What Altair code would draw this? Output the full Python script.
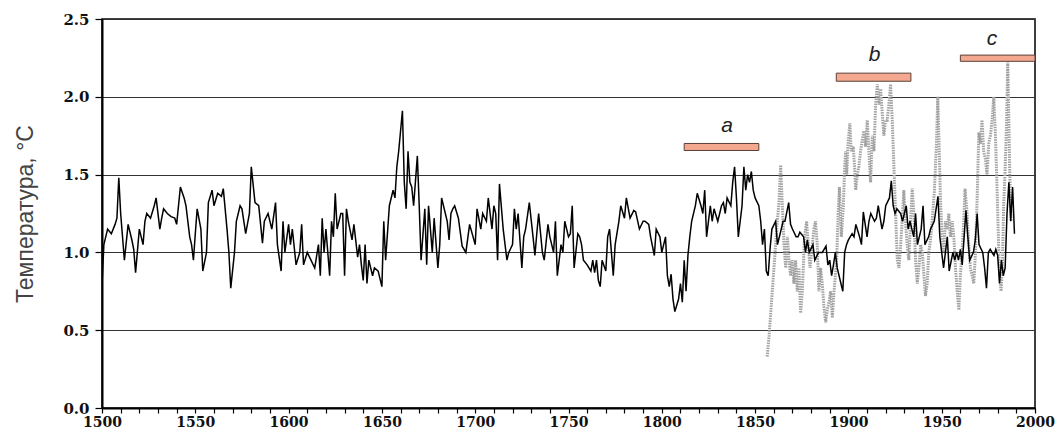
import altair as alt
import pandas as pd

# --- black series (annual reconstruction) ---
black_years = [
    1500, 1501, 1503, 1505, 1507, 1508, 1509, 1510, 1512, 1514, 1516, 1517, 1518, 1520, 1522, 1523,
    1524, 1526, 1528, 1529, 1531, 1532, 1533, 1535, 1537, 1539, 1540, 1542, 1544, 1545, 1547, 1548,
    1549, 1550, 1551, 1553, 1554, 1556, 1557, 1559, 1560, 1562, 1564, 1565, 1567, 1568, 1569, 1571,
    1572, 1574, 1575, 1577, 1579, 1580, 1582, 1584, 1586, 1587, 1589, 1591, 1593, 1594, 1596, 1597,
    1598, 1600, 1601, 1602, 1604, 1606, 1607, 1608, 1610, 1612, 1614, 1616, 1617, 1618, 1619, 1620,
    1622, 1623, 1624, 1625, 1626, 1628, 1629, 1630, 1631, 1632, 1634, 1635, 1637, 1638, 1639, 1640,
    1641, 1642, 1643, 1645, 1646, 1648, 1650, 1651, 1652, 1654, 1656, 1657, 1658, 1659, 1661, 1662,
    1663, 1664, 1665, 1666, 1667, 1669, 1670, 1671, 1673, 1674, 1675, 1677, 1678, 1680, 1681, 1682,
    1684, 1685, 1686, 1687, 1688, 1689, 1691, 1693, 1695, 1697, 1700, 1701, 1703, 1704, 1706, 1707,
    1709, 1710, 1711, 1712, 1713, 1715, 1717, 1718, 1720, 1721, 1722, 1723, 1725, 1726, 1727, 1729,
    1731, 1732, 1733, 1734, 1736, 1737, 1739, 1740, 1742, 1743, 1744, 1746, 1747, 1748, 1750, 1751,
    1752, 1753, 1755, 1756, 1757, 1758, 1760, 1762, 1763, 1764, 1765, 1766, 1767, 1768, 1770, 1771,
    1772, 1774, 1775, 1777, 1778, 1780, 1781, 1783, 1785, 1786, 1788, 1790, 1791, 1793, 1794, 1796,
    1797, 1799, 1800, 1802, 1803, 1804, 1805, 1806, 1807, 1809, 1810, 1811, 1812, 1813, 1814, 1815,
    1816, 1818, 1819, 1821, 1822, 1823, 1824, 1826, 1827, 1828, 1830, 1832, 1833, 1834, 1835, 1837,
    1838, 1839, 1840, 1841, 1843, 1844, 1845, 1846, 1847, 1848, 1849, 1850, 1852, 1853, 1854, 1855,
    1856, 1857, 1858, 1859, 1861, 1862, 1864, 1865, 1866, 1868, 1869, 1870, 1872, 1873, 1874, 1876,
    1877, 1878, 1879, 1881, 1882, 1884, 1886, 1888, 1889, 1890, 1891, 1892, 1893, 1894, 1895, 1897,
    1898, 1899, 1900, 1902, 1903, 1904, 1906, 1907, 1908, 1910, 1911, 1912, 1914, 1915, 1916, 1918,
    1919, 1920, 1922, 1923, 1924, 1925, 1926, 1928, 1929, 1931, 1932, 1933, 1935, 1936, 1937, 1939,
    1940, 1941, 1943, 1944, 1946, 1947, 1948, 1949, 1950, 1951, 1952, 1953, 1954, 1956, 1957, 1958,
    1959, 1960, 1961, 1963, 1964, 1965, 1967, 1968, 1969, 1970, 1972, 1973, 1974, 1975, 1976, 1978,
    1979, 1980, 1981, 1982, 1983, 1984, 1985, 1986, 1987, 1988, 1989,
]
black_vals = [
    0.79, 1.05, 1.15, 1.12, 1.18, 1.22, 1.48, 1.25, 0.95, 1.18, 1.08, 1.02, 0.87, 1.15, 1.05, 1.20,
    1.25, 1.22, 1.30, 1.35, 1.15, 1.22, 1.28, 1.25, 1.23, 1.22, 1.18, 1.42, 1.35, 1.30, 1.10, 1.05,
    0.95, 1.12, 1.28, 1.15, 0.88, 1.00, 1.32, 1.40, 1.30, 1.38, 1.36, 1.41, 1.15, 1.00, 0.77, 1.00,
    1.20, 1.30, 1.28, 1.12, 1.25, 1.55, 1.32, 1.30, 1.06, 1.20, 1.25, 1.15, 1.32, 1.05, 0.88, 1.20,
    1.00, 1.18, 1.05, 1.15, 0.92, 1.00, 1.18, 0.92, 1.00, 0.95, 0.90, 1.05, 0.85, 1.22, 1.00, 1.15,
    0.85, 1.20, 1.10, 1.38, 1.15, 1.25, 1.25, 0.85, 1.28, 1.20, 1.08, 1.18, 0.97, 1.05, 0.92, 0.82,
    1.05, 0.80, 0.95, 0.85, 0.90, 0.88, 0.78, 1.20, 0.95, 1.30, 1.40, 1.35, 1.55, 1.65, 1.91, 1.45,
    1.28, 1.65, 1.45, 1.42, 1.30, 1.62, 1.30, 0.95, 1.28, 0.92, 1.30, 1.00, 1.22, 0.90, 1.05, 1.35,
    1.25, 1.20, 1.08, 1.25, 1.28, 1.30, 1.22, 1.04, 1.00, 1.18, 1.05, 1.28, 1.15, 1.25, 1.20, 1.35,
    1.15, 1.30, 1.25, 0.95, 1.44, 1.15, 0.95, 1.00, 1.05, 1.28, 1.15, 1.25, 0.90, 1.10, 1.15, 1.32,
    1.10, 0.98, 1.12, 1.25, 1.00, 0.95, 1.18, 1.10, 1.00, 1.20, 0.85, 1.05, 1.00, 1.20, 1.10, 1.12,
    1.30, 0.90, 1.12, 1.10, 1.05, 0.95, 0.92, 0.88, 0.95, 0.87, 0.95, 0.82, 0.78, 0.95, 0.88, 1.10,
    1.15, 0.85, 1.05, 1.20, 1.30, 1.22, 1.35, 1.22, 1.27, 1.26, 1.15, 1.20, 1.20, 1.18, 1.10, 0.98,
    1.15, 1.10, 1.00, 1.10, 0.85, 0.78, 0.86, 0.70, 0.62, 0.70, 0.80, 0.68, 0.95, 0.75, 0.98, 1.10,
    1.20, 1.30, 1.38, 1.30, 1.25, 1.40, 1.10, 1.30, 1.20, 1.28, 1.20, 1.30, 1.32, 1.25, 1.35, 1.30,
    1.45, 1.55, 1.35, 1.10, 1.30, 1.55, 1.40, 1.50, 1.45, 1.52, 1.40, 1.35, 1.30, 1.20, 1.05, 1.15,
    0.88, 0.85, 1.02, 1.15, 1.20, 1.05, 1.15, 1.20, 1.20, 1.32, 1.18, 1.15, 1.10, 1.10, 1.13, 1.10,
    1.00, 1.08, 1.00, 1.05, 0.95, 1.00, 1.00, 1.04, 0.92, 0.95, 0.85, 0.92, 1.00, 0.90, 0.85, 0.75,
    1.00, 1.05, 1.08, 1.12, 1.10, 1.18, 1.10, 1.05, 1.26, 1.10, 1.20, 1.25, 1.20, 1.22, 1.30, 1.15,
    1.20, 1.30, 1.35, 1.46, 1.30, 1.25, 1.28, 1.25, 1.20, 1.30, 1.15, 1.20, 1.10, 1.25, 1.05, 1.15,
    1.30, 1.05, 1.10, 1.15, 1.20, 1.28, 1.36, 1.10, 1.00, 0.90, 1.00, 1.10, 0.88, 1.00, 0.95, 1.00,
    0.95, 1.02, 0.92, 1.27, 1.10, 0.95, 1.00, 1.08, 1.25, 1.05, 1.00, 0.90, 0.77, 1.00, 1.02, 0.98,
    1.02, 0.98, 0.80, 0.95, 0.85, 0.90, 1.25, 1.45, 1.20, 1.42, 1.12,
]

# --- gray series (instrumental record) ---
gray_years = [
    1856.5, 1857.4, 1858.3, 1859.2, 1860.1, 1861.0, 1861.9, 1862.8, 1863.7, 1864.6, 1865.5, 1866.4,
    1867.3, 1868.2, 1869.0, 1869.9, 1870.8, 1871.7, 1872.6, 1873.5, 1874.4, 1875.3, 1876.5, 1877.6,
    1878.5, 1879.4, 1880.3, 1881.5, 1882.4, 1883.3, 1884.2, 1885.1, 1886.0, 1886.9, 1887.8, 1888.7,
    1889.6, 1890.5, 1891.4, 1892.3, 1893.7, 1894.5, 1895.2, 1896.2, 1897.3, 1898.0, 1898.5, 1899.1,
    1899.8, 1900.8, 1901.5, 1902.6, 1903.3, 1903.9, 1904.8, 1905.6, 1906.5, 1907.4, 1908.3, 1909.2,
    1910.1, 1911.0, 1911.9, 1912.8, 1913.7, 1914.6, 1915.5, 1916.4, 1917.3, 1918.1, 1919.0, 1919.9,
    1920.8, 1921.7, 1922.6, 1923.5, 1924.4, 1925.3, 1926.2, 1927.1, 1928.0, 1928.8, 1929.7, 1930.6,
    1931.5, 1932.4, 1933.3, 1934.2, 1935.1, 1936.0, 1936.9, 1937.8, 1938.7, 1939.6, 1940.5, 1941.3,
    1942.2, 1943.1, 1944.2, 1945.2, 1946.1, 1947.2, 1947.9, 1948.6, 1949.3, 1950.2, 1951.1, 1952.0,
    1952.9, 1953.8, 1954.7, 1955.6, 1956.5, 1957.4, 1958.3, 1959.2, 1960.0, 1960.9, 1961.8, 1962.5,
    1963.6, 1964.5, 1965.4, 1966.3, 1967.2, 1968.1, 1969.0, 1969.9, 1970.8, 1971.6, 1972.5, 1973.4,
    1974.3, 1975.2, 1976.1, 1977.0, 1977.9, 1978.8, 1979.7, 1980.6, 1981.1, 1981.8, 1982.5, 1983.2,
    1983.9, 1984.7, 1985.4, 1985.9, 1986.5, 1987.2,
]
gray_vals = [
    0.33, 0.45, 0.60, 0.75, 0.90, 1.05, 1.20, 1.32, 1.56, 1.30, 1.05, 0.90,
    1.10, 0.95, 0.85, 0.95, 0.80, 0.95, 0.75, 0.90, 0.61, 0.75, 1.10, 1.20,
    1.05, 0.90, 1.00, 1.15, 1.20, 1.05, 0.75, 0.90, 0.80, 0.65, 0.55, 0.63,
    0.68, 0.75, 0.58, 0.75, 0.95, 1.25, 1.42, 1.10, 1.30, 1.55, 1.65, 1.50,
    1.70, 1.83, 1.65, 1.68, 1.55, 1.40, 1.50, 1.55, 1.65, 1.72, 1.78, 1.68,
    1.85, 1.65, 1.45, 1.75, 1.65, 1.95, 2.08, 1.95, 2.05, 1.90, 1.75, 1.85,
    1.85, 1.95, 2.08, 1.85, 1.55, 1.25, 0.95, 0.90, 1.05, 1.20, 1.40, 1.20,
    1.05, 0.95, 1.20, 1.41, 1.25, 0.95, 0.80, 0.90, 1.05, 1.00, 0.85, 0.72,
    0.80, 1.00, 1.10, 1.25, 1.40, 1.70, 2.00, 1.70, 1.35, 1.10, 1.00, 1.20,
    1.15, 1.25, 1.10, 1.20, 1.10, 0.90, 0.75, 0.63, 0.85, 1.00, 1.20, 1.41,
    1.25, 1.05, 0.90, 0.85, 0.80, 1.00, 1.35, 1.77, 1.70, 1.85, 1.65, 1.60,
    1.50, 1.70, 1.75, 1.85, 2.00, 1.75, 1.40, 1.00, 0.85, 0.75, 0.90, 1.30,
    1.50, 1.80, 2.22, 1.90, 1.50, 1.20,
]

# --- period bars a, b, c ---
bar_labels = ["a", "b", "c"]
bar_start = [1812, 1893.5, 1960]
bar_end = [1852, 1933.5, 2000]
bar_low = [1.655, 2.10, 2.228]
bar_high = [1.70, 2.152, 2.268]
label_year = [1835, 1914, 1977]
label_val = [1.81, 2.27, 2.37]

y_ticks = [0.0, 0.5, 1.0, 1.5, 2.0, 2.5]
x_ticks = list(range(1500, 2001, 10))

black_df = pd.DataFrame({"year": black_years, "value": black_vals})
gray_df = pd.DataFrame({"year": gray_years, "value": gray_vals})
bars_df = pd.DataFrame({"label": bar_labels, "x1": bar_start, "x2": bar_end,
                        "y1": bar_low, "y2": bar_high,
                        "lx": label_year, "ly": label_val})

xscale = alt.Scale(domain=[1500, 2000], nice=False, zero=False)
yscale = alt.Scale(domain=[0, 2.5], nice=False)

x_axis = alt.Axis(values=x_ticks, format="d",
                  labelExpr="datum.value % 50 === 0 ? datum.label : ''",
                  title=None, grid=False, tickSize=5, tickColor="black", tickWidth=1.2,
                  domainColor="black", domainWidth=2, labelFlush=False,
                  labelFont="DejaVu Serif", labelFontWeight="bold", labelFontSize=14,
                  labelColor="#111", labelPadding=2)
y_axis = alt.Axis(values=y_ticks, format=".1f", title="Температура, °C",
                  grid=True, gridColor="#333", gridWidth=1.2,
                  tickSize=7, tickColor="black", tickWidth=1.2,
                  domainColor="black", domainWidth=2, labelFlush=False,
                  labelFont="DejaVu Serif", labelFontWeight="bold", labelFontSize=15,
                  labelColor="#111", labelPadding=6,
                  titleFont="Liberation Sans", titleFontSize=23, titleFontWeight="normal",
                  titleColor="#444", titlePadding=25)

gray_line = alt.Chart(gray_df).mark_line(
    color="#a2a2a2", strokeWidth=3, strokeDash=[1.5, 1], clip=True
).encode(
    x=alt.X("year:Q", scale=xscale, axis=x_axis),
    y=alt.Y("value:Q", scale=yscale, axis=y_axis),
)

black_line = alt.Chart(black_df).mark_line(
    color="black", strokeWidth=1.5, clip=True
).encode(
    x=alt.X("year:Q", scale=xscale, axis=x_axis),
    y=alt.Y("value:Q", scale=yscale, axis=y_axis),
)

bars = alt.Chart(bars_df).mark_rect(
    fill="#f3a88f", stroke="#5a4038", strokeWidth=1
).encode(
    x=alt.X("x1:Q", scale=xscale, axis=x_axis),
    x2="x2:Q",
    y=alt.Y("y1:Q", scale=yscale, axis=y_axis),
    y2="y2:Q",
)

labels = alt.Chart(bars_df).mark_text(
    font="Liberation Sans", fontStyle="italic", fontSize=21, color="#222",
    align="center", baseline="middle"
).encode(
    x=alt.X("lx:Q", scale=xscale, axis=x_axis),
    y=alt.Y("ly:Q", scale=yscale, axis=y_axis),
    text="label:N",
)

chart = alt.layer(gray_line, black_line, bars, labels).properties(
    width=933, height=389,
    padding={"left": 94, "top": 11, "right": 20, "bottom": 26},
    autosize=alt.AutoSizeParams(type="none"),
).configure_view(stroke="black", strokeWidth=1.5)

chart.save("out.html", embed_options={"renderer": "svg", "actions": False})
